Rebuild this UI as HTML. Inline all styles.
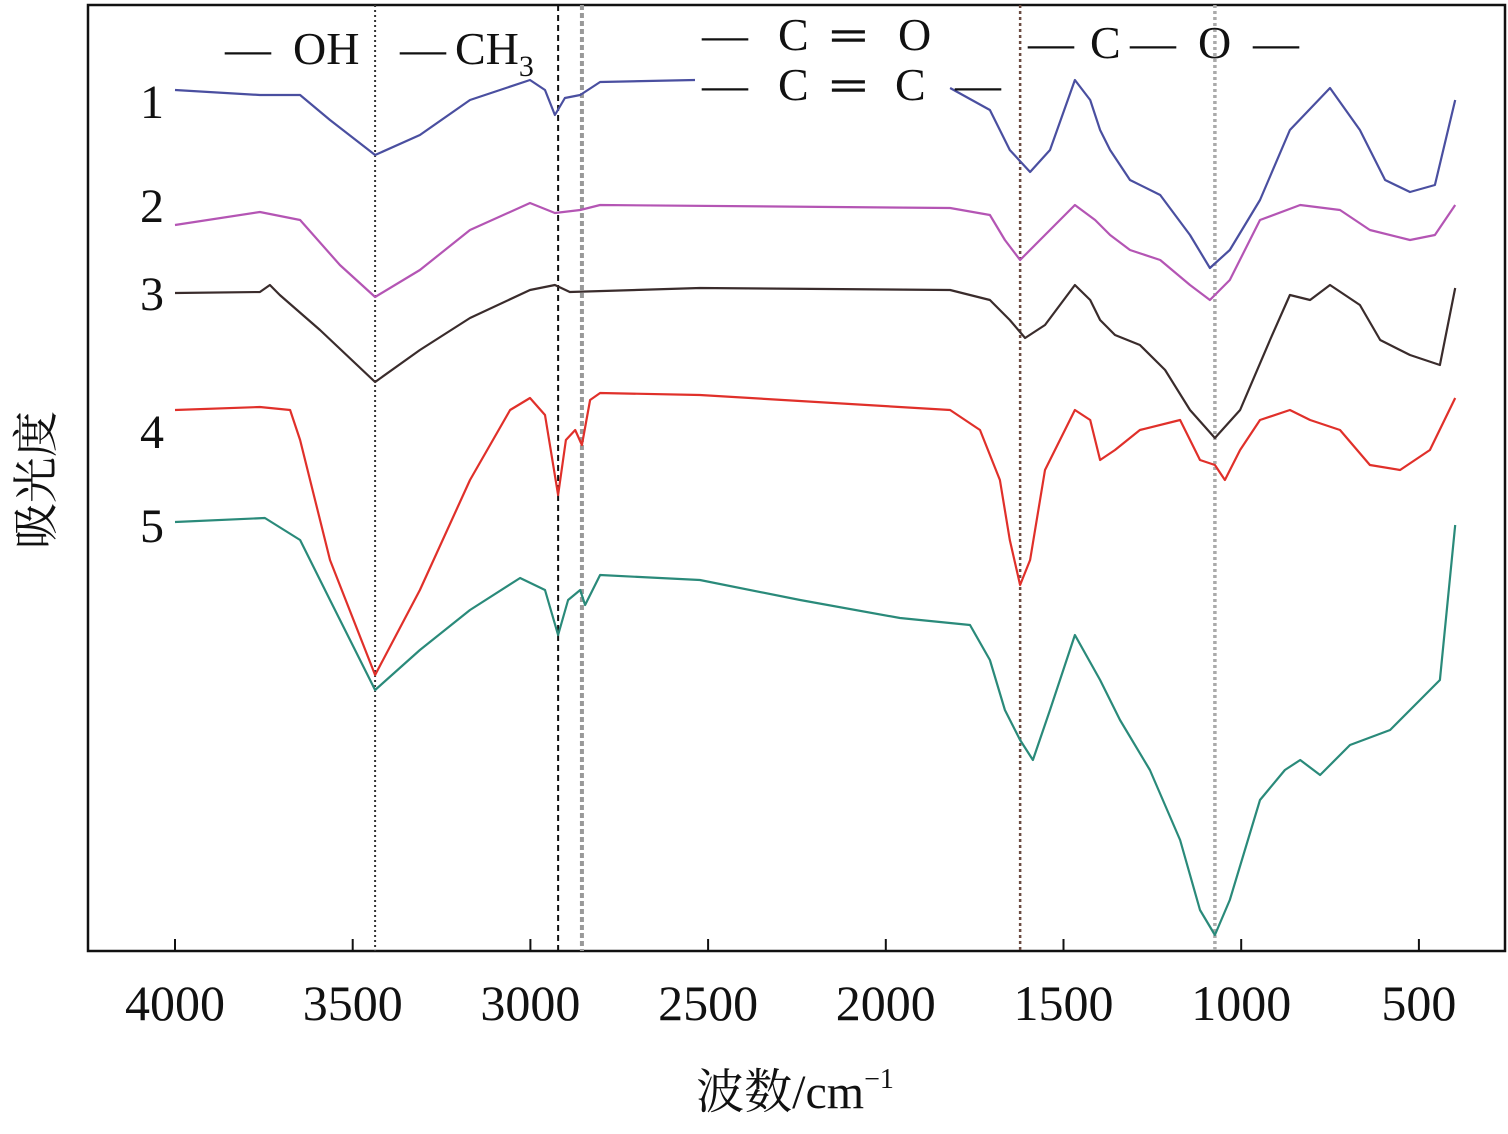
<!DOCTYPE html>
<html><head><meta charset="utf-8"><style>
body{margin:0;background:#fff;}
svg text{font-family:"Liberation Serif","Noto Serif CJK SC",serif;fill:#111;}
</style></head><body>
<svg id="chart" width="1508" height="1129" viewBox="0 0 1508 1129" xmlns="http://www.w3.org/2000/svg" font-family="Liberation Serif, Noto Serif CJK SC, serif">
<rect x="88" y="5" width="1417" height="946" fill="none" stroke="#111" stroke-width="2.5"/>
<g id="refs"></g><g id="series"></g><g id="axis"></g>
<text transform="translate(52,480) rotate(-90)" font-size="46" text-anchor="middle">吸光度</text>
<text x="795" y="1108" font-size="48" text-anchor="middle">波数/cm<tspan font-size="28" dy="-20">−1</tspan></text>
<g font-size="46">
<text x="225" y="64">—</text><text x="293" y="64">OH</text><text x="400" y="64">—</text><text x="455" y="64">CH<tspan font-size="30" dy="12">3</tspan></text></g>
<g font-size="46">
<text x="702" y="50">—</text><text x="778" y="50">C</text><text x="832" y="50">═</text><text x="898" y="50">O</text></g>
<g font-size="46">
<text x="702" y="100">—</text><text x="778" y="100">C</text><text x="832" y="100">═</text><text x="895" y="100">C</text><text x="955" y="100">—</text></g>
<g font-size="46">
<text x="1028" y="58">—</text><text x="1090" y="58">C</text><text x="1130" y="58">—</text><text x="1198" y="58">O</text><text x="1253" y="58">—</text></g>
<text x="140" y="118" font-size="48">1</text>
<text x="140" y="222" font-size="48">2</text>
<text x="140" y="310" font-size="48">3</text>
<text x="140" y="448" font-size="48">4</text>
<text x="140" y="542" font-size="48">5</text>
</svg>
<script>
const xTicks=[4000,3500,3000,2500,2000,1500,1000,500];
const refLines=[3437,2922,2855,1622,1074];
const w1a=[4000,3761,3648,3564,3437,3311,3170,3001,2959,2931,2903,2860,2804,2537];
const a1a=[8.61,8.56,8.56,8.31,7.96,8.16,8.51,8.71,8.61,8.36,8.53,8.56,8.69,8.71];
const w1b=[1819,1707,1651,1594,1538,1468,1425,1397,1369,1313,1228,1144,1088,1032,947,863,750,666,595,525,455,398];
const a1b=[8.63,8.41,8.01,7.79,8.01,8.71,8.51,8.21,8.01,7.71,7.56,7.16,6.83,7.01,7.51,8.21,8.63,8.21,7.71,7.59,7.66,8.51];
const w2=[4000,3761,3648,3536,3437,3311,3170,3001,2931,2860,2804,1819,1707,1665,1622,1566,1468,1411,1369,1313,1228,1144,1088,1032,947,834,722,638,525,455,398];
const a2=[7.26,7.39,7.31,6.86,6.54,6.81,7.21,7.48,7.38,7.41,7.46,7.43,7.36,7.11,6.91,7.11,7.46,7.31,7.16,7.01,6.91,6.66,6.51,6.71,7.31,7.46,7.41,7.21,7.11,7.16,7.46];
const w3=[4000,3761,3733,3705,3592,3437,3311,3170,3001,2931,2889,2523,1819,1707,1651,1608,1552,1468,1425,1397,1355,1285,1214,1144,1074,1003,919,863,806,750,666,609,525,441,398];
const a3=[6.58,6.59,6.66,6.56,6.21,5.69,6.01,6.33,6.61,6.66,6.59,6.63,6.61,6.51,6.31,6.13,6.26,6.66,6.51,6.31,6.16,6.06,5.81,5.41,5.13,5.41,6.11,6.56,6.51,6.66,6.46,6.11,5.96,5.86,6.63];
const w4=[4000,3761,3676,3648,3564,3437,3311,3170,3057,3001,2959,2922,2900,2874,2855,2832,2804,2523,1819,1735,1679,1651,1622,1594,1552,1468,1425,1397,1355,1285,1172,1116,1074,1046,1003,947,863,806,722,638,553,469,398];
const a4=[5.41,5.44,5.41,5.11,3.91,2.76,3.61,4.71,5.41,5.53,5.36,4.56,5.11,5.21,5.06,5.51,5.58,5.56,5.41,5.21,4.71,4.11,3.66,3.91,4.81,5.41,5.31,4.91,5.01,5.21,5.31,4.91,4.86,4.71,5.01,5.31,5.41,5.31,5.21,4.86,4.81,5.01,5.53];
const w5=[4000,3747,3648,3564,3437,3311,3170,3029,2959,2922,2894,2860,2846,2804,2523,2241,1960,1763,1707,1665,1622,1586,1538,1468,1397,1341,1257,1172,1116,1074,1032,947,877,834,778,694,581,497,441,398];
const a5=[4.29,4.33,4.11,3.51,2.61,3.01,3.41,3.73,3.61,3.16,3.51,3.61,3.46,3.76,3.71,3.51,3.33,3.26,2.91,2.41,2.11,1.91,2.41,3.16,2.71,2.31,1.81,1.11,0.41,0.16,0.51,1.51,1.81,1.91,1.76,2.06,2.21,2.51,2.71,4.26];
const NS='http://www.w3.org/2000/svg';
const xS=w=>175+(4000-w)*0.3554;
const yS=a=>951-a*100;
const refs=document.getElementById('refs'),ser=document.getElementById('series'),ax=document.getElementById('axis');
const refStyles=[['#333','2','2 3'],['#111','2','6 4'],['#999','4','5 3'],['#6a4a40','2.5','3 3'],['#aaa','3.5','3 3']];
refLines.forEach((w,i)=>{const l=document.createElementNS(NS,'line');


l.setAttribute('x1',xS(w));l.setAttribute('x2',xS(w));l.setAttribute('y1',5);l.setAttribute('y2',951);
l.setAttribute('stroke',refStyles[i][0]);l.setAttribute('stroke-width',refStyles[i][1]);l.setAttribute('stroke-dasharray',refStyles[i][2]);refs.appendChild(l);});
function draw(ws,as,color,name){const p=document.createElementNS(NS,'polyline');


p.setAttribute('points',ws.map((w,i)=>xS(w).toFixed(1)+','+yS(as[i]).toFixed(1)).join(' '));
p.setAttribute('fill','none');p.setAttribute('stroke',color);p.setAttribute('stroke-width','2.2');p.setAttribute('stroke-linejoin','round');ser.appendChild(p);}
draw(w1a,a1a,'#4a4fa0','spectrum-1-left');draw(w1b,a1b,'#4a4fa0','spectrum-1-right');
draw(w2,a2,'#b455b4','spectrum-2');draw(w3,a3,'#3a2c2c','spectrum-3');
draw(w4,a4,'#e0302a','spectrum-4');draw(w5,a5,'#2a8a7a','spectrum-5');
xTicks.forEach(t=>{const l=document.createElementNS(NS,'line');


l.setAttribute('x1',xS(t));l.setAttribute('x2',xS(t));l.setAttribute('y1',951);l.setAttribute('y2',939);l.setAttribute('stroke','#111');l.setAttribute('stroke-width','2');ax.appendChild(l);
const tx=document.createElementNS(NS,'text');


tx.setAttribute('x',xS(t));tx.setAttribute('y',1020);tx.setAttribute('font-size','50');tx.setAttribute('font-family','Liberation Serif, serif');tx.setAttribute('text-anchor','middle');tx.textContent=t;ax.appendChild(tx);});
</script>
</body></html>
